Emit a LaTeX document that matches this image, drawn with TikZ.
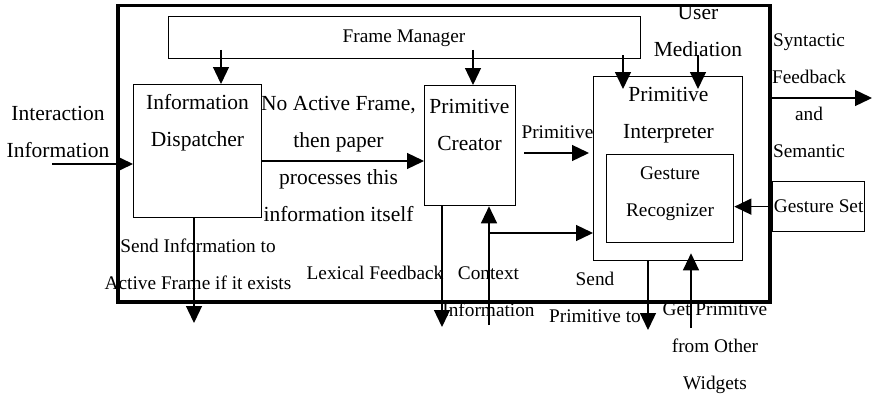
\documentclass[tikz,border=0pt]{standalone}
\usepackage{fontspec}
\setmainfont{Liberation Serif}
\usetikzlibrary{arrows.meta,calc}
\begin{document}
\begin{tikzpicture}[x=1pt,y=-1pt,
  box/.style={draw, line width=1.3pt, inner sep=0, anchor=north west},
  big/.style={font=\fontsize{21.5}{37}\selectfont, align=center, inner sep=0},
  small/.style={font=\fontsize{19.3}{37}\selectfont, align=center, inner sep=0},
  arr/.style={line width=1.3pt, -{Triangle[length=17pt,width=16pt]}}]
\useasboundingbox (0,0) rectangle (874,396);

% label under the top edge of the frame
\node[big] (userMed) at (698,31) {User\\Mediation};

% boxes
\node[box, line width=3.5pt, minimum width=652, minimum height=296] (paper) at (116,4) {};
\node[box, minimum width=472, minimum height=42] (fm) at (168,16) {};
\node[box, minimum width=128, minimum height=133] (disp) at (133,84) {};
\node[box, minimum width=91, minimum height=120] (creator) at (424,85) {};
\node[box, minimum width=149, minimum height=184] (interp) at (593,76) {};
\node[box, minimum width=127, minimum height=88] (recog) at (606,154) {};
\node[box, small, minimum width=92, minimum height=50] (gset) at (772,181) {Gesture Set};

% box titles
\node[small] (fmText) at (404,38) {Frame Manager};
\node[big] (dispText) at (197.5,123) {Information\\Dispatcher};
\node[big] (creatorText) at (469.5,125) {Primitive\\Creator};
\node[big] (interpText) at (668.5,115.5) {Primitive\\Interpreter};
\node[small] (recogText) at (670,193.5) {Gesture\\Recognizer};

% labels
\node[big] (inLabel) at (58,132) {Interaction\\Information};
\node[big] (noFrame) at (338.5,158.75) {No Active Frame,\\then paper\\processes this\\information itself};
\node[small] (primLabel) at (557.5,132) {Primitive};
\node[small] (feedback) at (809,95.75) {Syntactic\\Feedback\\and\\Semantic};
\node[small] (sendInfo) at (198,264.5) {Send Information to\\Active Frame if it exists};
\node[small] (lexical) at (375,273) {Lexical Feedback};
\node[small] (context) at (488.5,292) {Context\\Information};
\node[small] (sendPrim) at (595,297.5) {Send\\Primitive to};
\node[small] (getPrim) at (715,348.5) {Get Primitive\\from Other\\Widgets};

% connector end points
\coordinate (fmToDisp) at (221,50);
\coordinate (fmToCre) at (473,50);
\coordinate (fmToInt) at (623,55);
\coordinate (medTop) at (698,55);
\coordinate (inStart) at (52,164);
\coordinate (dcY) at (0,161);
\coordinate (primStart) at (524,153);
\coordinate (outEnd) at (872,98);
\coordinate (lexEnd) at (442,327);
\coordinate (ctxStart) at (489,325);
\coordinate (ctxBranch) at (489,233);
\coordinate (sendInfoEnd) at (194,323);
\coordinate (sendPrimEnd) at (648,330);
\coordinate (getPrimStart) at (691,328);

% connectors
\draw[arr] (fmToDisp) -- (fmToDisp |- disp.north);
\draw[arr] (fmToCre) -- (fmToCre |- creator.north);
\draw[arr] (fmToInt) -- ($(fmToInt |- interp.north)+(0,13)$);
\draw[arr] (medTop) -- ($(medTop |- interp.north)+(0,13)$);
\draw[arr] (inStart) -- (inStart -| disp.west);
\draw[arr] (disp.east |- dcY) -- (creator.west |- dcY);
\draw[arr] (primStart) -- ($(primStart -| interp.west)+(-4,0)$);
\draw[arr] (outEnd -| paper.east) -- (outEnd);
\draw[arr] (gset.west) -- (gset.west -| recog.east);
\draw[arr] (lexEnd |- creator.south) -- (lexEnd);
\draw[arr] (ctxStart) -- (ctxStart |- creator.south);
\draw[arr] (ctxBranch) -- (ctxBranch -| interp.west);
\draw[arr] (sendInfoEnd |- disp.south) -- (sendInfoEnd);
\draw[arr] (sendPrimEnd |- interp.south) -- (sendPrimEnd);
\draw[arr] (getPrimStart) -- ($(getPrimStart |- interp.south)+(0,-8)$);
\end{tikzpicture}
\end{document}
